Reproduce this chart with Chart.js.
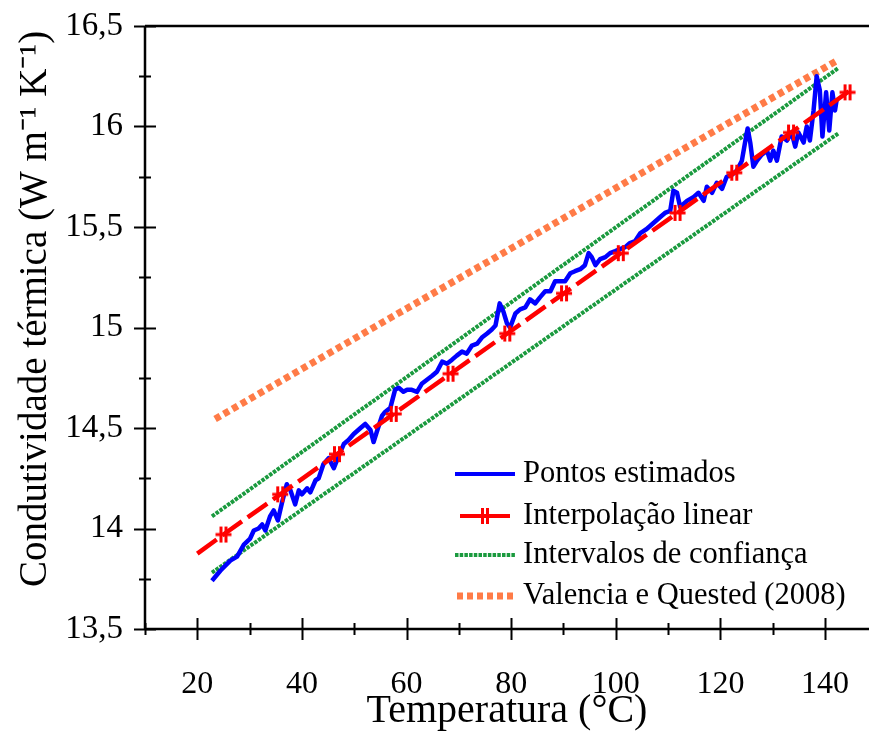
<!DOCTYPE html>
<html><head><meta charset="utf-8">
<script src="https://cdn.jsdelivr.net/npm/chart.js@4.4.1/dist/chart.umd.min.js"></script>
<style>html,body{margin:0;padding:0;background:#fff;}#wrap{width:869px;height:735px;}</style>
</head><body><div id="wrap"><canvas id="c" width="869" height="735"></canvas></div>
<script>
// ---- data ----
const seriesNames = ['Pontos estimados', 'Interpolação linear', 'Intervalos de confiança', 'Valencia e Quested (2008)'];
const xTickValues = [20, 40, 60, 80, 100, 120, 140];
const xTickLabels = ['20', '40', '60', '80', '100', '120', '140'];
const yTickValues = [13.5, 14, 14.5, 15, 15.5, 16, 16.5];
const yTickLabels = ['13,5', '14', '14,5', '15', '15,5', '16', '16,5'];
const xTitle = 'Temperatura (°C)';
const yTitle = '   \u2009Condutividade térmica (W m\u207B\u00B9 K\u207B\u00B9)';

const blueX = [22.8,24.4,26.3,27.6,28.9,30.1,30.8,31.7,32.4,33.0,33.9,34.6,35.4,36.2,37.1,37.8,38.7,39.4,40.0,41.0,41.6,42.6,43.2,44.1,45.1,46.1,47.0,48.0,48.9,49.9,51.2,52.1,53.1,53.7,54.3,55.3,55.9,56.9,57.8,58.5,59.4,60.1,61.0,62.0,62.9,63.9,64.9,65.8,66.8,67.7,68.7,69.6,70.6,71.5,72.5,73.5,74.4,75.4,76.3,77.0,77.8,78.5,79.2,79.8,80.8,81.7,82.7,83.6,84.6,85.5,86.5,87.5,88.4,89.4,90.3,91.3,92.2,93.2,94.1,94.8,95.4,96.1,97.0,98.0,98.9,99.9,100.8,101.8,102.7,103.7,104.7,105.9,107.2,108.5,109.4,110.4,111.0,111.7,112.3,113.6,114.9,115.8,116.8,117.4,118.4,119.3,120.3,121.2,122.2,123.1,124.1,124.7,125.2,125.7,126.3,127.0,127.9,128.9,129.5,130.1,130.8,131.7,132.7,133.6,134.3,134.9,135.9,136.5,137.1,137.8,138.4,139.0,139.5,140.2,140.8,141.4,141.9,142.2];
const blueY = [13.74,13.79,13.84,13.86,13.92,13.95,13.99,14.00,14.02,13.99,14.06,14.09,14.04,14.13,14.22,14.19,14.12,14.19,14.17,14.20,14.18,14.24,14.25,14.32,14.35,14.30,14.36,14.42,14.44,14.47,14.50,14.52,14.49,14.43,14.48,14.56,14.58,14.60,14.69,14.70,14.68,14.69,14.69,14.68,14.72,14.74,14.76,14.78,14.83,14.82,14.84,14.86,14.88,14.87,14.91,14.92,14.95,14.97,14.99,15.01,15.12,15.08,15.02,15.00,15.07,15.09,15.10,15.14,15.12,15.15,15.18,15.18,15.23,15.23,15.23,15.27,15.28,15.29,15.31,15.37,15.35,15.31,15.34,15.35,15.37,15.38,15.39,15.40,15.42,15.43,15.47,15.49,15.52,15.55,15.57,15.58,15.68,15.67,15.60,15.63,15.65,15.67,15.63,15.70,15.67,15.72,15.69,15.75,15.76,15.78,15.83,15.92,15.99,15.92,15.80,15.83,15.86,15.88,15.83,15.88,15.83,15.95,15.93,15.97,15.90,15.97,15.92,16.00,15.93,16.08,16.25,16.18,15.95,16.17,15.98,16.17,16.08,16.13];

const fitX = [20, 25.0, 35.85, 46.7, 57.55, 68.4, 79.25, 90.1, 100.95, 111.8, 122.65, 133.5, 144.3, 145.2];
const fitY = [13.875, 13.97, 14.17, 14.37, 14.57, 14.77, 14.97, 15.17, 15.37, 15.57, 15.77, 15.97, 16.17, 16.19];

const upperX = [22.8, 142.5];
const upperY = [14.06, 16.29];
const lowerX = [22.8, 142.5];
const lowerY = [13.78, 15.965];

const valX = [23.4, 142.2];
const valY = [14.545, 16.327];

// ---- styling ----
const FONT = "'Liberation Serif', 'Times New Roman', serif";
const C_BLUE = '#0000ff', C_RED = '#ff0000', C_GREEN = '#1a9a3e', C_ORANGE = '#ff7b47';

function pts(xs, ys) { return xs.map((x, i) => ({x: x, y: ys[i]})); }

// marker for the linear fit (double bar)
const marker = document.createElement('canvas');
marker.width = 18; marker.height = 20;
(function () {
  const m = marker.getContext('2d');
  m.strokeStyle = C_RED; m.lineWidth = 3;
  m.beginPath();
  m.moveTo(6.5, 2); m.lineTo(6.5, 18);
  m.moveTo(11.5, 2); m.lineTo(11.5, 18);
  m.moveTo(1, 10); m.lineTo(17, 10);
  m.stroke();
})();

const ticksPlugin = {
  id: 'axesTicks',
  afterDraw(chart) {
    const {ctx, chartArea: a, scales: {x, y}} = chart;
    ctx.save();
    ctx.strokeStyle = '#000';
    ctx.lineWidth = 2;
    ctx.beginPath();
    x.ticks.forEach(t => {
      const v = t.value;
      if (Math.abs(v / 10 - Math.round(v / 10)) > 1e-6) return;
      const px = Math.round(x.getPixelForValue(v)) + 0.5;
      const major = Math.abs(v / 20 - Math.round(v / 20)) < 1e-6;
      const L = major ? 11 : 6;
      ctx.moveTo(px, a.bottom - L); ctx.lineTo(px, a.bottom + L);
    });
    y.ticks.forEach(t => {
      const v = t.value;
      const py = Math.round(y.getPixelForValue(v)) + 0.5;
      const major = Math.abs(v * 2 - Math.round(v * 2)) < 1e-6;
      const L = major ? 11 : 6;
      ctx.moveTo(a.left - L, py); ctx.lineTo(a.left + L, py);
    });
    ctx.stroke();
    ctx.lineWidth = 2.5;
    ctx.beginPath();
    ctx.moveTo(a.left, a.top); ctx.lineTo(chart.width, a.top);
    ctx.moveTo(a.left, a.top); ctx.lineTo(a.left, a.bottom);
    ctx.moveTo(a.left, a.bottom); ctx.lineTo(chart.width, a.bottom);
    ctx.stroke();
    ctx.restore();
  }
};

const legendPlugin = {
  id: 'innerLegend',
  afterDraw(chart) {
    const ctx = chart.ctx;
    const x1 = 455, x2 = 515, tx = 523;
    const rows = [474, 516, 555, 596];
    ctx.save();
    ctx.lineCap = 'butt';
    ctx.strokeStyle = C_BLUE; ctx.lineWidth = 4; ctx.setLineDash([]);
    ctx.beginPath(); ctx.moveTo(x1, rows[0]); ctx.lineTo(x2, rows[0]); ctx.stroke();
    ctx.strokeStyle = C_RED; ctx.lineWidth = 4;
    ctx.beginPath(); ctx.moveTo(x1 + 5, rows[1]); ctx.lineTo(x2 - 5, rows[1]); ctx.stroke();
    ctx.drawImage(marker, (x1 + x2) / 2 - 9, rows[1] - 10);
    ctx.strokeStyle = C_GREEN; ctx.lineWidth = 4; ctx.setLineDash([3.5, 1.2]);
    ctx.beginPath(); ctx.moveTo(x1, rows[2]); ctx.lineTo(x2, rows[2]); ctx.stroke();
    ctx.strokeStyle = C_ORANGE; ctx.lineWidth = 7; ctx.setLineDash([6, 4]);
    ctx.beginPath(); ctx.moveTo(x1 + 2, rows[3]); ctx.lineTo(x2, rows[3]); ctx.stroke();
    ctx.setLineDash([]);
    ctx.fillStyle = '#000';
    ctx.font = '30.5px ' + FONT;
    ctx.textAlign = 'left'; ctx.textBaseline = 'middle';
    seriesNames.forEach((n, i) => ctx.fillText(n, tx, rows[i]));
    ctx.restore();
  }
};

new Chart(document.getElementById('c'), {
  type: 'line',
  data: {
    datasets: [
      {label: seriesNames[0], data: pts(blueX, blueY), borderColor: C_BLUE, borderWidth: 4.5, pointRadius: 0, tension: 0, borderJoinStyle: 'round', order: 1},
      {label: seriesNames[1], data: pts(fitX, fitY), borderColor: C_RED, backgroundColor: C_RED, borderWidth: 4.5, borderDash: [24, 7], tension: 0,
        pointRadius: fitX.map((v, i) => (i === 0 || i === fitX.length - 1) ? 0 : 8), pointStyle: marker, order: 0},
      {label: seriesNames[2], data: pts(upperX, upperY), borderColor: C_GREEN, borderWidth: 4, borderDash: [3.5, 1.2], pointRadius: 0, order: 2},
      {label: seriesNames[2] + ' ', data: pts(lowerX, lowerY), borderColor: C_GREEN, borderWidth: 4, borderDash: [3.5, 1.2], pointRadius: 0, order: 2},
      {label: seriesNames[3], data: pts(valX, valY), borderColor: C_ORANGE, borderWidth: 7, borderDash: [6, 4], pointRadius: 0, order: 3}
    ]
  },
  options: {
    responsive: false,
    animation: false,
    devicePixelRatio: 1,
    layout: {padding: {top: 26, right: 0, left: 0, bottom: 0}},
    plugins: {legend: {display: false}, tooltip: {enabled: false}},
    scales: {
      x: {
        type: 'linear', min: 10, max: 148.4,
        grid: {display: false}, border: {display: false},
        ticks: {stepSize: 10, includeBounds: false, autoSkip: false, maxRotation: 0, padding: 0, color: '#000',
          font: {family: FONT, size: 32, lineHeight: 2.95},
          callback: (v) => { const i = xTickValues.indexOf(v); return i >= 0 ? xTickLabels[i] : ''; }},
        title: {display: true, text: xTitle, color: '#000', font: {family: FONT, size: 40}, padding: {top: 0, bottom: 0}},
        afterFit: (s) => { s.height = 106; s.paddingLeft = 0; s.paddingRight = 0; }
      },
      y: {
        type: 'linear', min: 13.5, max: 16.5,
        grid: {display: false}, border: {display: false},
        ticks: {stepSize: 0.25, autoSkip: false, padding: 14, color: '#000',
          font: {family: FONT, size: 33},
          callback: (v) => { const i = yTickValues.findIndex(t => Math.abs(t - v) < 1e-6); return i >= 0 ? yTickLabels[i] : ''; }},
        title: {display: true, text: yTitle, color: '#000', font: {family: FONT, size: 39}, padding: {top: 12, bottom: 0}},
        afterFit: (s) => { s.width = 145; s.paddingTop = 0; s.paddingBottom = 0; }
      }
    }
  },
  plugins: [ticksPlugin, legendPlugin]
});
</script></body></html>
